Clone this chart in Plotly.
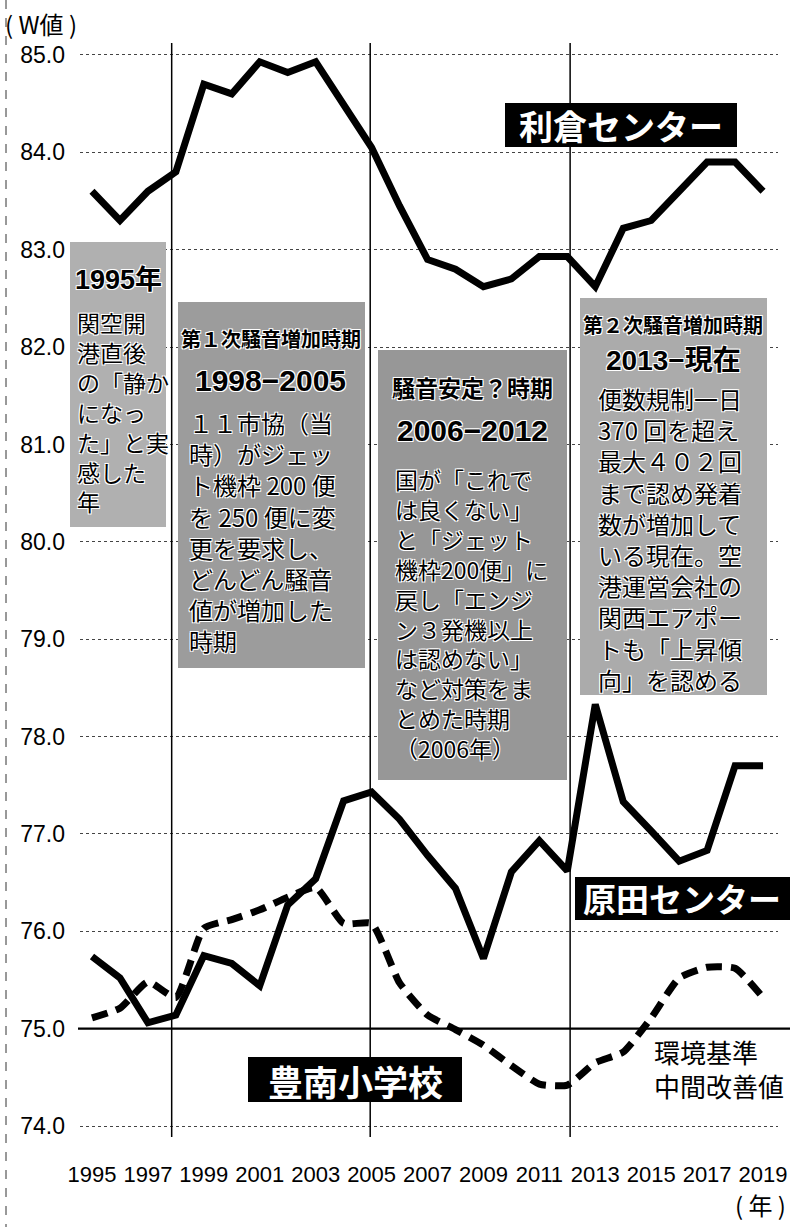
import plotly.graph_objects as go

# ---------------- data ----------------
years = list(range(1995, 2020))
rikura = [83.6, 83.3, 83.6, 83.8, 84.7, 84.6, 84.93, 84.82, 84.93, 84.5, 84.05, 83.45,
          82.9, 82.8, 82.62, 82.7, 82.93, 82.93, 82.62, 83.22, 83.3, 83.6, 83.9, 83.9, 83.6]
harada = [75.74, 75.52, 75.06, 75.14, 75.75, 75.67, 75.44, 76.27, 76.54, 77.34, 77.43, 77.15,
          76.78, 76.44, 75.72, 76.61, 76.93, 76.62, 78.33, 77.33, 77.03, 76.72, 76.83, 77.7, 77.7]
toyonan = [75.11, 75.21, 75.48, 75.32, 76.03, 76.12, 76.22, 76.35, 76.45, 76.08, 76.08, 75.47,
           75.14, 74.99, 74.83, 74.62, 74.43, 74.42, 74.65, 74.76, 75.11, 75.52, 75.63, 75.62, 75.32]
x_ticks = list(range(1995, 2020, 2))
y_ticks = [74, 75, 76, 77, 78, 79, 80, 81, 82, 83, 84, 85]
period_bounds = [1997.85, 2004.95, 2012.1]
standard_value = 75.0

# ---------------- layout geometry ----------------
W, H = 790, 1227
PL, PR, PT, PB = 80, 778, 43, 1137
XR = [1994.571, 2019.535]
YR = [73.887, 85.123]

def fx(px):
    return (px - PL) / (PR - PL)

def fy(py):
    return (PB - py) / (PB - PT)

CJK = "Noto Sans CJK JP"
LAT = "Liberation Sans, Arial, Noto Sans CJK JP"
OUTLINE = "white 1px 1px 0px, white -1px -1px 0px, white 1px -1px 0px, white -1px 1px 0px"

fig = go.Figure()
line_w = 7
fig.add_trace(go.Scatter(x=years, y=rikura, mode="lines",
                         line=dict(color="black", width=line_w), name="利倉センター"))
fig.add_trace(go.Scatter(x=years, y=harada, mode="lines",
                         line=dict(color="black", width=line_w), name="原田センター"))
fig.add_trace(go.Scatter(x=years, y=toyonan, mode="lines",
                         line=dict(color="black", width=line_w, dash="16px,9px",
                                   shape="spline", smoothing=0.5), name="豊南小学校"))

shapes = []
annotations = []

# left page border (dashed)
shapes.append(dict(type="line", xref="paper", yref="paper", x0=fx(6), x1=fx(6),
                   y0=fy(0), y1=fy(H), line=dict(color="#333", width=1, dash="dash")))
# environmental standard line
shapes.append(dict(type="line", xref="paper", yref="y", x0=fx(78), x1=fx(790),
                   y0=standard_value, y1=standard_value, line=dict(color="black", width=2.2)))
# period boundary lines
for b in period_bounds:
    shapes.append(dict(type="line", xref="x", yref="paper", x0=b, x1=b, y0=0, y1=1,
                       line=dict(color="black", width=1.5)))

def rect(x0, y0, x1, y1, color):
    shapes.append(dict(type="rect", xref="paper", yref="paper", x0=fx(x0), x1=fx(x1),
                       y0=fy(y1), y1=fy(y0), fillcolor=color, line=dict(width=0), layer="above"))

def txt(text, px, py, size, color="black", xanchor="center", family=CJK, shadow=None, align="center"):
    font = dict(size=size, color=color, family=family)
    if shadow:
        font["shadow"] = shadow
    annotations.append(dict(text=text, x=fx(px), y=fy(py), xref="paper", yref="paper",
                            xanchor=xanchor, yanchor="middle", showarrow=False, font=font,
                            align=align, borderpad=0))

def block(lst, px_left, py_first, py_last, size):
    txt("<br>".join(lst), px_left, (py_first + py_last) / 2, size, xanchor="left",
        shadow=OUTLINE, align="left")

# Box 1
rect(70, 242, 166, 527, "#b0b0b0")
txt("<b>1995年</b>", 118, 280, 27, family=LAT, shadow=OUTLINE)
block(["関空開", "港直後", "の「静か", "になっ", "た」と実", "感した", "年"], 76, 323, 500, 23)

# Box 2
rect(178, 302, 365, 668, "#9c9c9c")
txt("<b>第１次騒音増加時期</b>", 271, 338, 20, shadow=OUTLINE)
txt("<b>1998−2005</b>", 270, 380, 30, family=LAT, shadow=OUTLINE)
block(["１１市協（当", "時）がジェッ", "ト機枠 200 便", "を 250 便に変", "更を要求し、",
       "どんどん騒音", "値が増加した", "時期"], 188, 423, 640, 24)

# Box 3
rect(378, 350, 567, 780, "#979797")
txt("<b>騒音安定？時期</b>", 472, 387, 23, shadow=OUTLINE)
txt("<b>2006−2012</b>", 472, 430, 30, family=LAT, shadow=OUTLINE)
block(["国が「これで", "は良くない」", "と「ジェット", "機枠200便」に", "戻し「エンジ",
       "ン３発機以上", "は認めない」", "など対策をま", "とめた時期", "（2006年）"], 394, 477, 750, 23)

# Box 4
rect(580, 298, 767, 695, "#ababab")
txt("<b>第２次騒音増加時期</b>", 673, 325, 20, shadow=OUTLINE)
txt("<b>2013−現在</b>", 673, 360, 28, family=LAT, shadow=OUTLINE)
block(["便数規制一日", "370 回を超え", "最大４０２回", "まで認め発着", "数が増加して",
       "いる現在。空", "港運営会社の", "関西エアポー", "トも「上昇傾", "向」を認める"], 597, 398, 679, 24)

# Black series labels
rect(505, 103, 737, 147, "black")
txt("<b>利倉センター</b>", 621, 125, 34, color="white")
rect(575, 877, 790, 920, "black")
txt("<b>原田センター</b>", 582, 898, 33, color="white", xanchor="left")
rect(248, 1057, 462, 1102, "black")
txt("<b>豊南小学校</b>", 355, 1080, 35, color="white")

# Standard label
txt("環境基準<br>中間改善値", 653, 1068, 26, xanchor="left", align="left")

# Axis titles
txt("( W値 )", 4, 23, 24, xanchor="left")
txt("( 年 )", 787, 1204, 24, xanchor="right")

fig.update_layout(
    width=W, height=H, autosize=False,
    margin=dict(l=PL, r=W - PR, t=PT, b=H - PB, autoexpand=False),
    paper_bgcolor="white", plot_bgcolor="white",
    showlegend=False,
    shapes=shapes, annotations=annotations,
    xaxis=dict(range=XR, tickvals=x_ticks, ticktext=[str(v) for v in x_ticks],
               showgrid=False, zeroline=False, showline=False, ticks="",
               tickangle=0, ticklabelstandoff=22, automargin=False,
               tickfont=dict(family="Liberation Sans, Arial", size=22, color="black")),
    yaxis=dict(range=YR, tickvals=y_ticks, ticktext=[f"{v:.1f}" for v in y_ticks],
               showgrid=True, gridcolor="#444", gridwidth=1, griddash="dot",
               zeroline=False, showline=False, ticks="", ticklabelstandoff=14,
               automargin=False,
               tickfont=dict(family="Liberation Sans, Arial", size=23, color="black")),
)

fig.write_html(
    "out.html",
    config={"displayModeBar": False, "responsive": False},
    post_script=("document.documentElement.style.overflow='hidden';"
                 "document.body.style.overflow='hidden';"
                 "document.body.style.margin='0px';document.body.style.padding='0px';"),
)
